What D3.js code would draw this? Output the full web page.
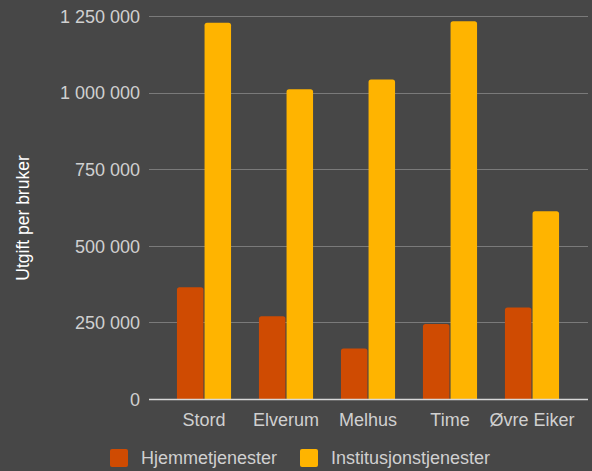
<!DOCTYPE html>
<html><head><meta charset="utf-8">
<script src="https://cdn.jsdelivr.net/npm/d3@7"></script>
<style>html,body{margin:0;padding:0;background:#474747;}svg{display:block;}</style>
</head><body>
<svg id="c" width="592" height="471"></svg>
<script>
const categories = ["Stord", "Elverum", "Melhus", "Time", "Øvre Eiker"];
const seriesNames = ["Hjemmetjenester", "Institusjonstjenester"];
const hjemmetjenester = [365000, 270000, 165000, 245000, 299000];
const institusjonstjenester = [1228000, 1011000, 1043000, 1233000, 613000];
const yTicks = [0, 250000, 500000, 750000, 1000000, 1250000];
const colors = ["#CF4B02", "#FFB400"];

const svg = d3.select("#c");
const font = "'Liberation Sans', Arial, sans-serif";
const W = 592, H = 471;
svg.append("rect").attr("width", W).attr("height", H).attr("fill", "#474747");

const gridL = 149, gridR = 588;
const y = d3.scaleLinear().domain([0, 1250000]).range([399, 16]);
const x0 = d3.scaleBand().domain(categories).range([163, 573]).paddingInner(0.34).paddingOuter(0.17);
const x1 = d3.scaleBand().domain(seriesNames).range([0, x0.bandwidth()]).paddingInner(0.04);

const fmt = v => d3.format(",")(v).replace(/,/g, " ");

// gridlines
svg.append("g").selectAll("line").data(yTicks.filter(t => t > 0)).join("line")
  .attr("x1", gridL).attr("x2", gridR)
  .attr("y1", d => Math.round(y(d)) + 0.5).attr("y2", d => Math.round(y(d)) + 0.5)
  .attr("stroke", "#7a7a7a").attr("stroke-width", 1);

// y axis labels
const yAxis = d3.axisLeft(y).tickValues(yTicks).tickFormat(fmt).tickSize(0).tickPadding(0);
const ga = svg.append("g").attr("transform", `translate(140,0)`).call(yAxis);
ga.select(".domain").remove();
ga.selectAll("text").attr("fill", "#d0d0d0").attr("font-size", 18).attr("font-family", font).attr("dy", "0.35em");

// bars
const data = categories.map((c, i) => ({c, vals: [hjemmetjenester[i], institusjonstjenester[i]]}));
const r = 2.5;
function barPath(x, w, yt, yb) {
  return `M${x},${yb}V${yt + r}Q${x},${yt} ${x + r},${yt}H${x + w - r}Q${x + w},${yt} ${x + w},${yt + r}V${yb}Z`;
}
const groups = svg.append("g").selectAll("g").data(data).join("g")
  .attr("transform", d => `translate(${x0(d.c)},0)`);
groups.selectAll("path").data(d => d.vals.map((v, j) => ({v, s: seriesNames[j], j}))).join("path")
  .attr("d", d => barPath(x1(d.s), x1.bandwidth(), y(d.v), y(0)))
  .attr("fill", d => colors[d.j]);

// zero line
svg.append("line").attr("x1", gridL).attr("x2", gridR).attr("y1", y(0) + 0.5).attr("y2", y(0) + 0.5)
  .attr("stroke", "#d8d8d8").attr("stroke-width", 1.5);

// x axis labels
const xAxis = d3.axisBottom(x0).tickSize(0).tickPadding(0);
const gx = svg.append("g").attr("transform", `translate(0,${y(0)})`).call(xAxis);
gx.select(".domain").remove();
gx.selectAll("text").attr("fill", "#d0d0d0").attr("font-size", 18).attr("font-family", font).attr("dy", null).attr("y", 27);

// y title
svg.append("text").attr("transform", "translate(29,218) rotate(-90)")
  .attr("text-anchor", "middle").attr("fill", "#ffffff").attr("font-size", 17.5).attr("font-family", font)
  .text("Utgift per bruker");

// legend
const legX = [110, 300];
const leg = svg.append("g").selectAll("g").data(seriesNames).join("g")
  .attr("transform", (d, i) => `translate(${legX[i]},449)`);
leg.append("rect").attr("width", 18).attr("height", 18).attr("rx", 2).attr("fill", (d, i) => colors[i]);
leg.append("text").attr("x", 31).attr("y", 14.5).attr("fill", "#d0d0d0").attr("font-size", 18).attr("font-family", font).text(d => d);
</script>
</body></html>
